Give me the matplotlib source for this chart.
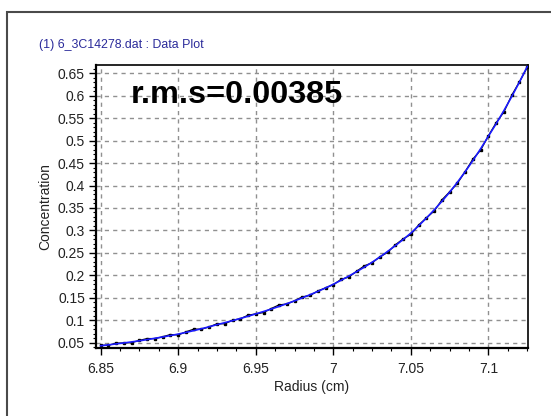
import matplotlib
matplotlib.use("Agg")
import matplotlib.pyplot as plt
from matplotlib.ticker import MultipleLocator, FixedLocator
from matplotlib.patches import Rectangle

plt.rcParams['font.family'] = ['Liberation Sans', 'DejaVu Sans']

radius = [6.850, 6.855, 6.860, 6.865, 6.870, 6.875, 6.880, 6.885, 6.890, 6.895,
          6.900, 6.905, 6.910, 6.915, 6.920, 6.925, 6.930, 6.935, 6.940, 6.945,
          6.950, 6.955, 6.960, 6.965, 6.970, 6.975, 6.980, 6.985, 6.990, 6.995,
          7.000, 7.005, 7.010, 7.015, 7.020, 7.025, 7.030, 7.035, 7.040, 7.045,
          7.050, 7.055, 7.060, 7.065, 7.070, 7.075, 7.080, 7.085, 7.090, 7.095,
          7.100, 7.105, 7.110, 7.115, 7.120, 7.125]

conc_fit = [0.0430, 0.0450, 0.0471, 0.0493, 0.0516, 0.0540, 0.0567, 0.0596, 0.0626, 0.0657,
            0.0690, 0.0728, 0.0767, 0.0809, 0.0853, 0.0900, 0.0944, 0.0989, 0.1037, 0.1087,
            0.1140, 0.1193, 0.1248, 0.1306, 0.1367, 0.1430, 0.1497, 0.1567, 0.1641, 0.1718,
            0.1800, 0.1889, 0.1982, 0.2080, 0.2182, 0.2290, 0.2407, 0.2531, 0.2661, 0.2797,
            0.2940, 0.3103, 0.3275, 0.3456, 0.3648, 0.3850, 0.4073, 0.4308, 0.4557, 0.4821,
            0.5100, 0.5378, 0.5671, 0.5980, 0.6306, 0.6650]

conc_obs = [0.044, 0.044, 0.049, 0.049, 0.050, 0.055, 0.059, 0.059, 0.063, 0.068,
            0.067, 0.074, 0.080, 0.080, 0.085, 0.092, 0.092, 0.100, 0.103, 0.111,
            0.114, 0.117, 0.126, 0.134, 0.136, 0.143, 0.152, 0.155, 0.165, 0.172,
            0.179, 0.191, 0.196, 0.209, 0.221, 0.228, 0.241, 0.251, 0.268, 0.281,
            0.291, 0.312, 0.328, 0.343, 0.368, 0.386, 0.405, 0.431, 0.459, 0.479,
            0.511, 0.540, 0.564, 0.601, 0.631, 0.663]

x_ticks = [6.85, 6.9, 6.95, 7.0, 7.05, 7.1]
x_tick_labels = ['6.85', '6.9', '6.95', '7', '7.05', '7.1']
y_ticks = [0.05, 0.1, 0.15, 0.2, 0.25, 0.3, 0.35, 0.4, 0.45, 0.5, 0.55, 0.6, 0.65]
y_tick_labels = ['0.05', '0.1', '0.15', '0.2', '0.25', '0.3', '0.35', '0.4', '0.45',
                 '0.5', '0.55', '0.6', '0.65']

title_text = "(1) 6_3C14278.dat : Data Plot"
rms_text = "r.m.s=0.00385"

W, H = 551, 416
fig = plt.figure(figsize=(W / 100, H / 100), dpi=100)
fig.patch.set_facecolor('white')

# outer frame
fig.patches.append(Rectangle((7 / W, -0.05), 1.2, 1 - 12 / H + 0.05,
                             transform=fig.transFigure, fill=False,
                             edgecolor='#4a4a4a', linewidth=1.5, zorder=0))

ax = fig.add_axes([96 / W, (H - 348) / H, (528 - 96) / W, (348 - 65) / H])
ax.plot(radius, conc_obs, color='black', lw=0.9, marker='s', ms=2.0, zorder=3)
ax.plot(radius, conc_fit, color='#1a1aff', lw=1.2, zorder=4)

ax.set_xlim(6.847, 7.1255)
ax.set_ylim(0.038, 0.6685)
ax.xaxis.set_major_locator(FixedLocator(x_ticks))
ax.set_xticklabels(x_tick_labels)
ax.yaxis.set_major_locator(FixedLocator(y_ticks))
ax.set_yticklabels(y_tick_labels)
ax.xaxis.set_minor_locator(MultipleLocator(0.0125))
ax.yaxis.set_minor_locator(MultipleLocator(0.01))

ax.tick_params(which='major', direction='out', length=5, width=1, labelsize=10,
               colors='black', labelcolor='#222222')
ax.tick_params(axis='x', which='major', pad=5)
ax.tick_params(axis='y', which='major', pad=3)
ax.tick_params(which='minor', direction='out', length=2.5, width=0.8, colors='black')

ax.grid(True, which='major', color='#909090', linestyle=(0, (3, 3)), linewidth=1)
ax.set_axisbelow(True)

for s in ['left', 'bottom']:
    ax.spines[s].set_linewidth(1.6)
for s in ['right', 'top']:
    ax.spines[s].set_linewidth(1.2)

ax.set_xlabel('Radius (cm)', fontsize=10, color='#222222', labelpad=3)
ax.set_ylabel('Concentration', fontsize=10, color='#222222', labelpad=4)

ax.text(131 / W, 1 - 95 / H, rms_text, transform=fig.transFigure, fontsize=23.3,
        fontweight='bold', va='center', ha='left', color='black', zorder=5)

fig.text(39 / W, 1 - 45 / H, title_text, fontsize=8.9, color='#2a2a9a',
         va='center', ha='left')

fig.savefig('out.png', dpi=100)
